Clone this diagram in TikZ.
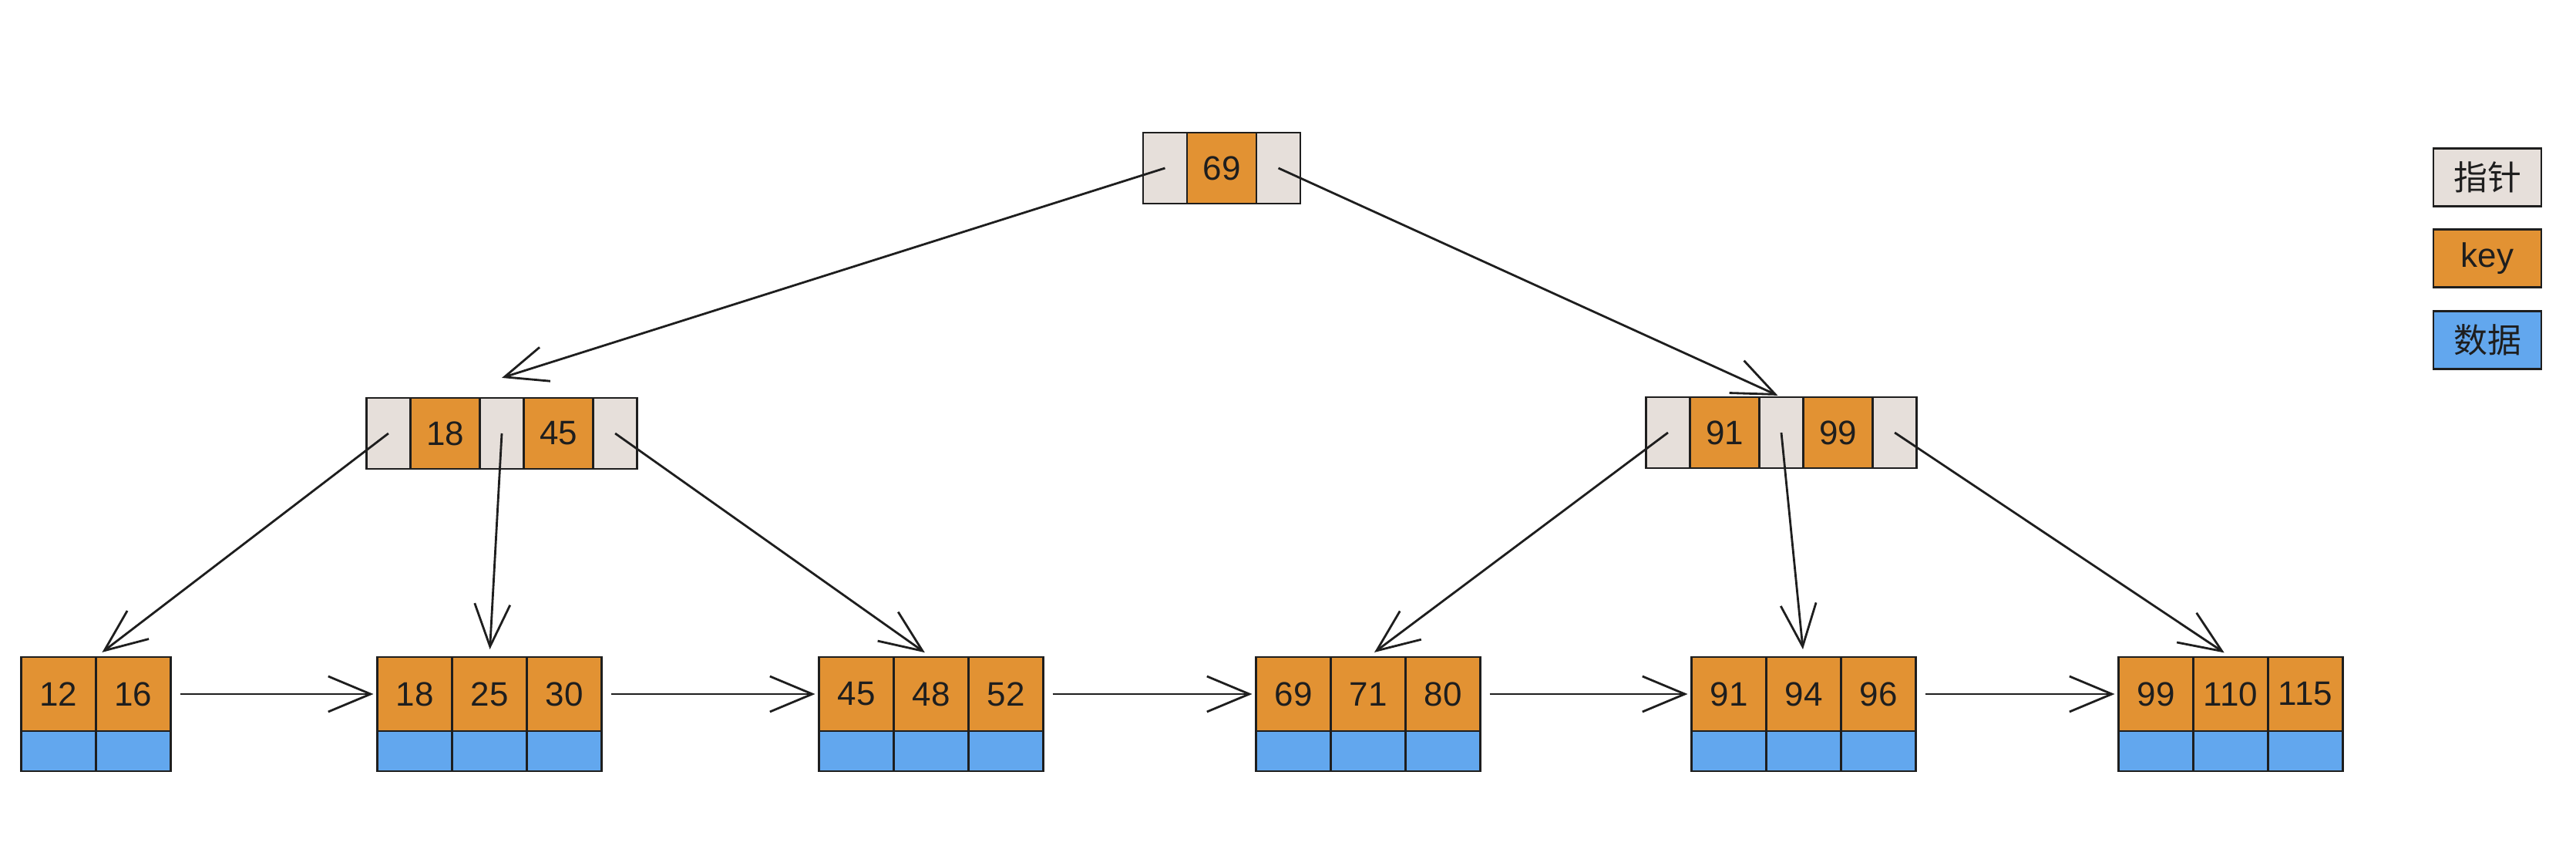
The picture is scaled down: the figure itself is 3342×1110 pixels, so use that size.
\documentclass[tikz,border=0pt]{standalone}
\usepackage{fontspec}
\setmainfont{Liberation Sans}
\newfontfamily\cjkfont{Noto Sans CJK SC}
\usetikzlibrary{arrows.meta,positioning}

\definecolor{inkcol}{HTML}{1E1E1E}
\definecolor{ptrfill}{HTML}{E6DFDA}
\definecolor{keyfill}{HTML}{E29233}
\definecolor{datafill}{HTML}{62A7EE}

\begin{document}
\begin{tikzpicture}[
    x=0.01cm, y=-0.01cm,
    font=\fontsize{12.5}{15}\selectfont,
    cell/.style={draw=inkcol,line width=0.8pt,text=inkcol,inner sep=0pt,outer sep=0pt},
    ptrcell/.style={cell,fill=ptrfill,minimum width=0.57cm,minimum height=0.92cm},
    keycell/.style={cell,fill=keyfill,minimum width=0.9cm,minimum height=0.92cm},
    leafkey/.style={cell,fill=keyfill,minimum width=0.97cm,minimum height=0.96cm},
    leafdata/.style={cell,fill=datafill,minimum width=0.97cm,minimum height=0.52cm},
    legendbox/.style={cell,minimum width=1.4cm,minimum height=0.75cm},
    arrowtip/.style={
      draw=inkcol,line width=0.8pt,
      -{Straight Barb[length=5.5mm,width=4.6mm]}
    }
  ]
    \useasboundingbox (0,0) rectangle (3342,1110);

    % root
    \node[keycell] (rootK) at (1585,218) {69};
    \node[ptrcell,left=0pt of rootK] (rootL) {};
    \node[ptrcell,right=0pt of rootK] (rootR) {};

    % second level
    \node[ptrcell] (leftM) at (651,562) {};
    \node[keycell,left=0pt of leftM] (leftK1) {18};
    \node[ptrcell,left=0pt of leftK1] (leftL) {};
    \node[keycell,right=0pt of leftM] (leftK2) {45};
    \node[ptrcell,right=0pt of leftK2] (leftR) {};

    \node[ptrcell] (rightM) at (2311,561) {};
    \node[keycell,left=0pt of rightM] (rightK1) {91};
    \node[ptrcell,left=0pt of rightK1] (rightL) {};
    \node[keycell,right=0pt of rightM] (rightK2) {99};
    \node[ptrcell,right=0pt of rightK2] (rightR) {};

    % leaves
    \foreach \leaf/\x/\keys in {A/76/{12,16},B/538/{18,25,30},C/1111/{45,48,52},
                                D/1678/{69,71,80},E/2243/{91,94,96},F/2797/{99,110,115}}
      \foreach \k [count=\i] in \keys {
        \node[leafkey] (\leaf\i) at (\x+97*\i-97,900) {\k};
        \node[leafdata,below=0pt of \leaf\i] (\leaf\i-d) {};
      }

    \draw[arrowtip] (rootL.center) -- ([yshift=2.6mm]leftM.north);
    \draw[arrowtip,shorten >=0.5mm] (rootR.center) -- (rightM.north);

    \draw[arrowtip,shorten >=1mm] (leftL.center) -- (A1.north east);
    \draw[arrowtip,shorten >=1mm] (leftM.center) -- (B2.north);
    \draw[arrowtip,shorten >=1mm] (leftR.center) -- (C2.north);
    \draw[arrowtip,shorten >=1mm] (rightL.center) -- (D2.north);
    \draw[arrowtip,shorten >=1mm] (rightM.center) -- (E2.north);
    \draw[arrowtip,shorten >=1mm] (rightR.center) -- (F2.north);

    \foreach \a/\b in {A2/B1,B3/C1,C3/D1,D3/E1,E3/F1}
      \draw[arrowtip,shorten <=1.2mm,shorten >=0.5mm] (\a) -- (\b);

    % legend
    \node[legendbox,fill=ptrfill] (legPtr) at (3227,230) {\cjkfont 指针};
    \node[legendbox,fill=keyfill] (legKey) at (3227,335) {key};
    \node[legendbox,fill=datafill] (legData) at (3227,441) {\cjkfont 数据};
  \end{tikzpicture}
\end{document}
